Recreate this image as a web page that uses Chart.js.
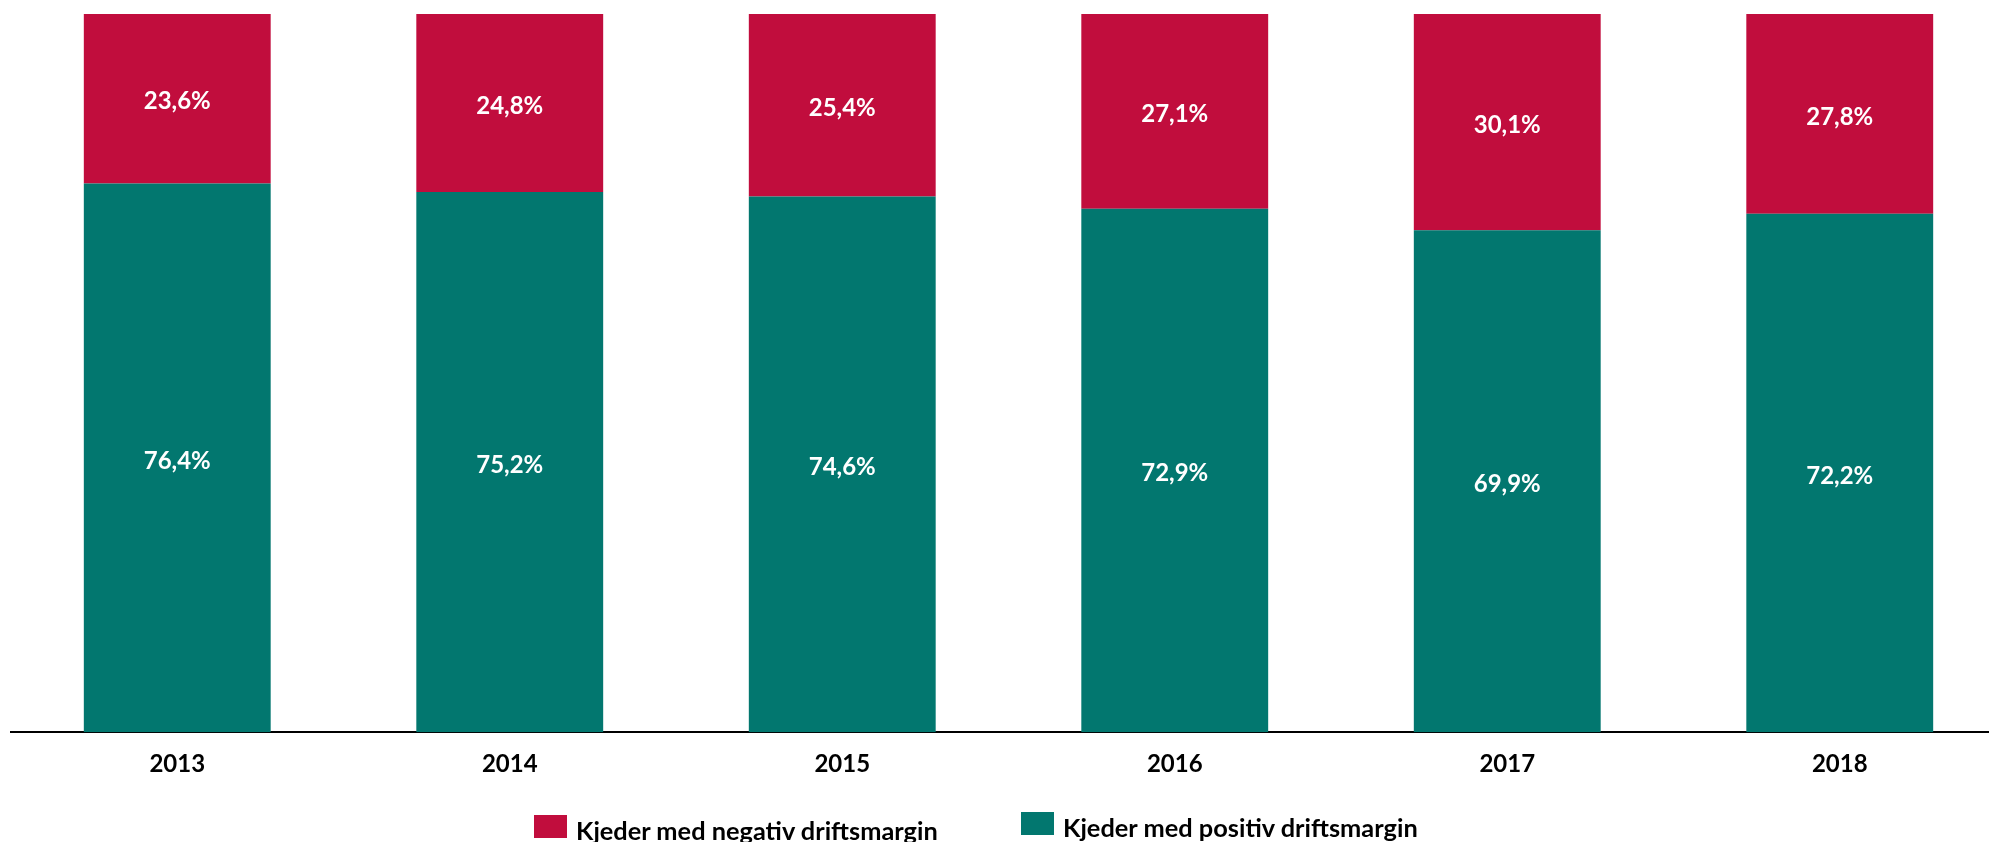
<!DOCTYPE html>
<html>
<head>
<meta charset="utf-8">
<script src="https://cdn.jsdelivr.net/npm/chart.js@4"></script>
<style>
  html, body { margin: 0; padding: 0; background: #fff; overflow: hidden; }
  #wrap { position: relative; width: 2010px; height: 842px; }
  .box { position: absolute; width: 33px; height: 23px; }
  .txt { position: absolute; white-space: nowrap; font-family: Lato, sans-serif; font-weight: bold; font-size: 25px; line-height: 25px; color: #000; transform-origin: left center; }
</style>
</head>
<body>
<div id="wrap">
  <canvas id="chart" width="2010" height="842"></canvas>
</div>
<script>
  const years = ['2013', '2014', '2015', '2016', '2017', '2018'];
  const positive = [76.4, 75.2, 74.6, 72.9, 69.9, 72.2];
  const negative = [23.6, 24.8, 25.4, 27.1, 30.1, 27.8];

  const red = 'rgb(193, 13, 61)';
  const green = 'rgb(2, 119, 111)';

  // draws the value inside each bar segment
  const barLabels = {
    id: 'barLabels',
    afterDatasetsDraw(chart) {
      const ctx = chart.ctx;
      ctx.save();
      ctx.fillStyle = '#fff';
      ctx.font = 'bold 24px Lato';
      ctx.textAlign = 'center';
      ctx.textBaseline = 'middle';
      chart.data.datasets.forEach((ds, i) => {
        chart.getDatasetMeta(i).data.forEach((bar, j) => {
          const mid = (bar.y + bar.base) / 2 + 3;
          ctx.fillText(ds.data[j].toFixed(1).replace('.', ',') + '%', bar.x, mid);
        });
      });
      ctx.restore();
    }
  };

  const chart = new Chart(document.getElementById('chart'), {
    type: 'bar',
    data: {
      labels: years,
      datasets: [{
        label: 'Kjeder med positiv driftsmargin',
        data: positive,
        backgroundColor: green,
        barPercentage: 0.562,
        categoryPercentage: 1
      }, {
        label: 'Kjeder med negativ driftsmargin',
        data: negative,
        backgroundColor: red,
        barPercentage: 0.562,
        categoryPercentage: 1
      }]
    },
    options: {
      responsive: false,
      animation: false,
      layout: { padding: { left: 11, right: 4, top: 14, bottom: 45 } },
      plugins: { legend: { display: false }, tooltip: { enabled: false } },
      scales: {
        x: {
          stacked: true,
          grid: { display: false, drawTicks: false },
          border: { display: true, color: '#000', width: 2 },
          ticks: { color: '#000', padding: 18, font: { family: 'Lato', weight: 'bold', size: 24 } }
        },
        y: {
          stacked: true,
          display: false,
          min: 0,
          max: 100
        }
      }
    },
    plugins: [barLabels]
  });

  // html legend, built from the datasets
  const legendItems = [
    { ds: 1, box: [534, 815], text: [576, 818], width: 363 },
    { ds: 0, box: [1021, 812], text: [1063, 815], width: 356 }
  ];
  const wrap = document.getElementById('wrap');
  const mctx = document.createElement('canvas').getContext('2d');
  mctx.font = 'bold 25px Lato';
  legendItems.forEach(it => {
    const ds = chart.data.datasets[it.ds];
    const box = document.createElement('div');
    box.className = 'box';
    box.style.left = it.box[0] + 'px';
    box.style.top = it.box[1] + 'px';
    box.style.background = ds.backgroundColor;
    wrap.appendChild(box);
    const txt = document.createElement('span');
    txt.className = 'txt';
    txt.textContent = ds.label;
    txt.style.left = it.text[0] + 'px';
    txt.style.top = it.text[1] + 'px';
    const w = mctx.measureText(ds.label).width;
    txt.style.transform = 'scaleX(' + (it.width / w).toFixed(3) + ')';
    wrap.appendChild(txt);
  });
</script>
</body>
</html>
